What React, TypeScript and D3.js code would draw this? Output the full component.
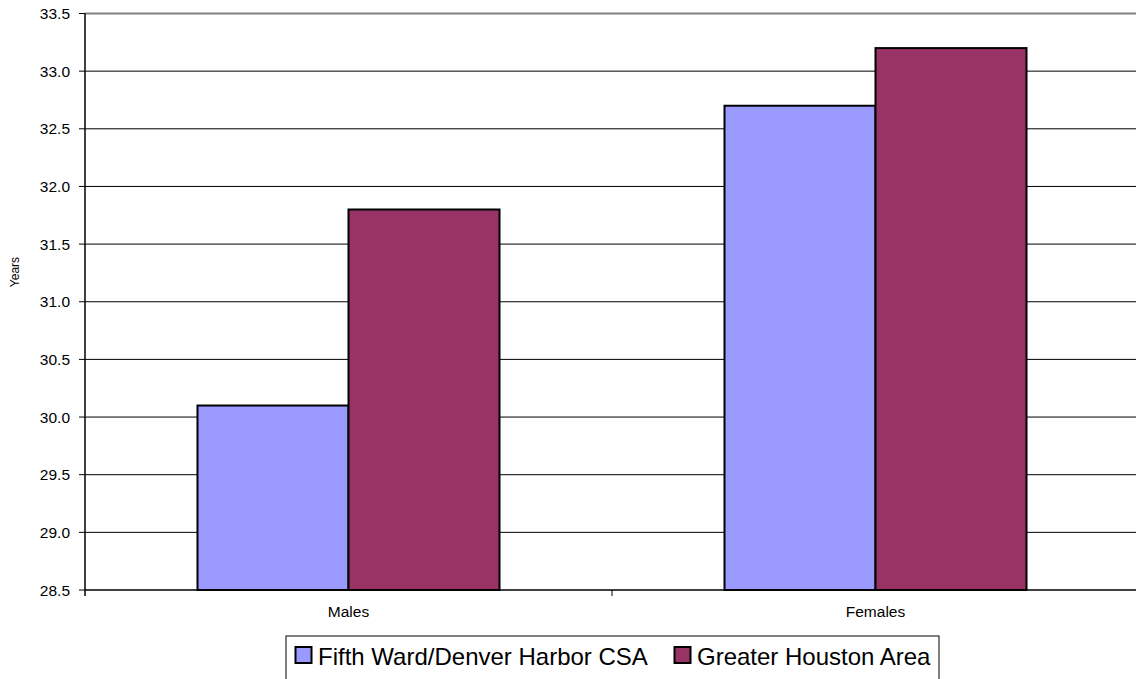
import React from "react";
import * as d3 from "d3";

const categories = ["Males", "Females"];
const seriesNames = ["Fifth Ward/Denver Harbor CSA", "Greater Houston Area"];
const fifthWard = [30.1, 32.7];
const greaterHouston = [31.8, 33.2];
const yTicks = [28.5, 29.0, 29.5, 30.0, 30.5, 31.0, 31.5, 32.0, 32.5, 33.0, 33.5];
const colors = ["#9999FF", "#993366"];

export default function App() {
  const W = 1136, H = 679;
  const left = 85, right = 1139, top = 13.5, bottom = 590;
  const x0 = d3.scaleBand<string>().domain(categories).range([left, right]).padding(0);
  const x1 = d3.scaleBand<string>().domain(seriesNames).range([0, x0.bandwidth()]).paddingInner(0).paddingOuter(0.745);
  const y = d3.scaleLinear().domain([28.5, 33.5]).range([bottom, top]);
  const values = [fifthWard, greaterHouston];
  const font = "Liberation Sans, Arial, sans-serif";

  return (
    <svg width={W} height={H} style={{ position: "absolute", left: 0, top: 0, background: "#fff" }} fontFamily={font}>
      {yTicks.map((t, i) => (
        <g key={i}>
          {i > 0 && (
            <line x1={left} x2={W} y1={y(t)} y2={y(t)}
              stroke={i === yTicks.length - 1 ? "#808080" : "#000"}
              strokeWidth={i === yTicks.length - 1 ? 2 : 1} />
          )}
          <line x1={left - 6} x2={left} y1={y(t)} y2={y(t)} stroke="#000" strokeWidth={1} />
          <text x={70} y={y(t)} dy="0.36em" textAnchor="end" fontSize={15.5} fill="#000">{t.toFixed(1)}</text>
        </g>
      ))}
      {categories.map((c, ci) =>
        seriesNames.map((s, si) => {
          const v = values[si][ci];
          const bx = (x0(c) as number) + (x1(s) as number);
          return (
            <rect key={c + s} x={bx} y={y(v)} width={x1.bandwidth()} height={y(28.5) - y(v)}
              fill={colors[si]} stroke="#000" strokeWidth={2} />
          );
        })
      )}
      <line x1={left} x2={left} y1={top} y2={bottom + 6} stroke="#000" strokeWidth={1.5} />
      <line x1={left} x2={W} y1={bottom} y2={bottom} stroke="#000" strokeWidth={1.5} />
      {categories.slice(1).map((c) => (
        <line key={c} x1={x0(c) as number} x2={x0(c) as number} y1={bottom} y2={bottom + 6} stroke="#000" strokeWidth={1} />
      ))}
      {categories.map((c) => (
        <text key={c} x={(x0(c) as number) + x0.bandwidth() / 2} y={617} textAnchor="middle" fontSize={15.5} fill="#000">{c}</text>
      ))}
      <text transform={`translate(19,272) rotate(-90)`} textAnchor="middle" fontSize={12} fill="#000">Years</text>
      <rect x={286} y={636} width={653} height={60} fill="#fff" stroke="#000" strokeWidth={1} />
      {seriesNames.map((s, i) => {
        const sx = i === 0 ? 295.5 : 674.5;
        return (
          <g key={s}>
            <rect x={sx} y={647} width={16} height={16} fill={colors[i]} stroke="#000" strokeWidth={2} />
            <text x={sx + 22.5} y={664.5} fontSize={24} fill="#000">{s}</text>
          </g>
        );
      })}
    </svg>
  );
}
